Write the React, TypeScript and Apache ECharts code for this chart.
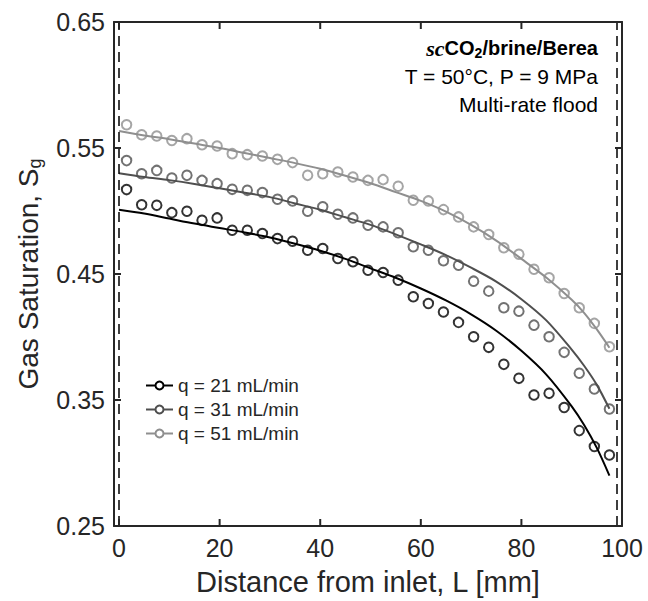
import React, { useEffect, useRef } from 'react';
import * as echarts from 'echarts';

// Measured positions along the core [mm]
const distance = [1.5, 4.5, 7.5, 10.5, 13.5, 16.5, 19.5, 22.5, 25.5, 28.5, 31.5, 34.5, 37.5, 40.5, 43.5, 46.5, 49.5, 52.5, 55.5, 58.5, 61.5, 64.5, 67.5, 70.5, 73.5, 76.5, 79.5, 82.5, 85.5, 88.5, 91.5, 94.5, 97.5];

// Measured gas saturation
const sg21 = [0.517, 0.505, 0.5045, 0.4987, 0.4998, 0.4926, 0.4945, 0.4847, 0.4847, 0.4821, 0.4781, 0.476, 0.4689, 0.4702, 0.4623, 0.4597, 0.453, 0.4512, 0.4451, 0.4319, 0.4266, 0.4198, 0.4116, 0.4002, 0.3918, 0.3783, 0.3672, 0.354, 0.3553, 0.344, 0.3257, 0.3131, 0.3064];
const sg31 = [0.54, 0.5296, 0.5322, 0.5262, 0.5283, 0.5243, 0.5217, 0.5172, 0.5164, 0.5146, 0.5093, 0.508, 0.4998, 0.5033, 0.4974, 0.4945, 0.4887, 0.4874, 0.4827, 0.4716, 0.4689, 0.4605, 0.457, 0.4443, 0.4364, 0.4232, 0.4205, 0.4094, 0.4002, 0.3878, 0.3712, 0.3587, 0.3429];
const sg51 = [0.5685, 0.5605, 0.5595, 0.556, 0.5574, 0.5526, 0.5516, 0.5455, 0.5447, 0.5437, 0.541, 0.5384, 0.5283, 0.5296, 0.531, 0.527, 0.5243, 0.5249, 0.5196, 0.5085, 0.508, 0.5011, 0.4953, 0.4874, 0.4813, 0.4708, 0.4657, 0.4538, 0.447, 0.4345, 0.4232, 0.4108, 0.3923];

// Model fit curves
const fitDistance = [0, 5, 10, 15, 20, 25, 30, 35, 40, 45, 50, 55, 60, 65, 70, 75, 80, 85, 90, 92.5, 95, 97.5];
const fit21 = [0.501, 0.498, 0.494, 0.49, 0.4865, 0.483, 0.479, 0.474, 0.4685, 0.462, 0.4545, 0.447, 0.4385, 0.429, 0.418, 0.405, 0.389, 0.37, 0.345, 0.33, 0.312, 0.29];
const fit31 = [0.53, 0.527, 0.5245, 0.5215, 0.518, 0.5145, 0.511, 0.506, 0.501, 0.495, 0.489, 0.4815, 0.4735, 0.465, 0.455, 0.444, 0.43, 0.413, 0.39, 0.377, 0.362, 0.343];
const fit51 = [0.5635, 0.56, 0.557, 0.5535, 0.55, 0.546, 0.542, 0.538, 0.5335, 0.528, 0.522, 0.515, 0.508, 0.4995, 0.489, 0.4765, 0.462, 0.447, 0.4295, 0.419, 0.406, 0.3915];

const seriesNames = ['q = 21 mL/min', 'q = 31 mL/min', 'q = 51 mL/min'];
const xTicks = [0, 20, 40, 60, 80, 100];
const yTicks = [0.25, 0.35, 0.45, 0.55, 0.65];
const coreBounds = [0, 99];

const X_MIN = -1, X_MAX = 100;
const Y_MIN = 0.25, Y_MAX = 0.65;

const colors = ['#000000', '#4f4f4f', '#8f8f8f'];
const FONT = 'Liberation Sans, Arial, Helvetica, sans-serif';
const TXT = '#262626';
const TICK_LEN = 7;

const pair = (xs: number[], ys: number[]) => xs.map((x, i) => [x, ys[i]]);

export default function App() {
  const ref = useRef<HTMLDivElement>(null);
  useEffect(() => {
    const chart = echarts.init(ref.current!, null, { renderer: 'svg' });
    const fits = [fit21, fit31, fit51];
    const meas = [sg21, sg31, sg51];
    const axisLine = { show: true, onZero: false, lineStyle: { color: TXT, width: 2 } };
    const tickStyle = { stroke: TXT, lineWidth: 2 };
    const series: any[] = [];
    fits.forEach((f, i) => {
      series.push({
        type: 'line',
        name: seriesNames[i],
        data: pair(fitDistance, f),
        smooth: 0.3,
        symbol: 'emptyCircle',
        symbolSize: 10,
        showSymbol: false,
        lineStyle: { color: colors[i], width: 2 },
        itemStyle: { color: colors[i], borderColor: colors[i], borderWidth: 2 },
        z: 2,
      });
    });
    meas.forEach((m, i) => {
      series.push({
        type: 'scatter',
        name: 'meas' + i,
        data: pair(distance, m),
        symbol: 'circle',
        symbolSize: 9.5,
        itemStyle: { color: 'rgba(0,0,0,0)', borderColor: colors[i], borderWidth: 2 },
        z: 3,
      });
    });
    series.push({
      type: 'line',
      name: 'bounds',
      data: [],
      markLine: {
        silent: true,
        symbol: ['none', 'none'],
        label: { show: false },
        lineStyle: { color: '#000', width: 1.5, type: [10, 6] },
        data: coreBounds.map((b) => ({ xAxis: b })),
      },
    });
    // inward box ticks on bottom/top
    series.push({
      type: 'custom',
      name: 'xticks',
      silent: true,
      clip: false,
      z: 5,
      data: xTicks.map((v) => [v, Y_MIN]),
      renderItem: (_p: any, api: any) => {
        const b = api.coord([api.value(0), Y_MIN]);
        const t = api.coord([api.value(0), Y_MAX]);
        return {
          type: 'group',
          children: [
            { type: 'line', shape: { x1: b[0], y1: b[1], x2: b[0], y2: b[1] - TICK_LEN }, style: tickStyle },
            { type: 'line', shape: { x1: t[0], y1: t[1], x2: t[0], y2: t[1] + TICK_LEN }, style: tickStyle },
          ],
        };
      },
    });
    // inward box ticks on left/right
    series.push({
      type: 'custom',
      name: 'yticks',
      silent: true,
      clip: false,
      z: 5,
      data: yTicks.map((v) => [X_MIN, v]),
      renderItem: (_p: any, api: any) => {
        const l = api.coord([X_MIN, api.value(1)]);
        const r = api.coord([X_MAX, api.value(1)]);
        return {
          type: 'group',
          children: [
            { type: 'line', shape: { x1: l[0], y1: l[1], x2: l[0] + TICK_LEN, y2: l[1] }, style: tickStyle },
            { type: 'line', shape: { x1: r[0], y1: r[1], x2: r[0] - TICK_LEN, y2: r[1] }, style: tickStyle },
          ],
        };
      },
    });

    chart.setOption({
      animation: false,
      backgroundColor: '#fff',
      grid: { left: 114, right: 26, top: 22, bottom: 73 },
      xAxis: [
        {
          type: 'value', min: X_MIN, max: X_MAX,
          name: 'Distance from inlet, L [mm]', nameLocation: 'middle', nameGap: 41,
          nameTextStyle: { fontFamily: FONT, fontSize: 29, color: TXT },
          axisLine,
          axisTick: { show: false },
          axisLabel: { customValues: xTicks, fontFamily: FONT, fontSize: 25, color: TXT, margin: 9 },
          splitLine: { show: false },
        },
        {
          type: 'value', min: X_MIN, max: X_MAX, position: 'top',
          axisLine,
          axisTick: { show: false },
          axisLabel: { show: false },
          splitLine: { show: false },
        },
      ],
      yAxis: [
        {
          type: 'value', min: Y_MIN, max: Y_MAX, position: 'left',
          name: 'Gas Saturation, S{sub|g}', nameLocation: 'middle', nameGap: 70,
          nameTextStyle: {
            fontFamily: FONT, fontSize: 28, color: TXT,
            rich: { sub: { fontFamily: FONT, fontSize: 18, color: TXT, padding: [13, 0, 0, 0] } },
          },
          axisLine,
          axisTick: { show: false },
          axisLabel: { customValues: yTicks, fontFamily: FONT, fontSize: 25, color: TXT, margin: 9, formatter: (v: number) => v.toFixed(2) },
          splitLine: { show: false },
        },
        {
          type: 'value', min: Y_MIN, max: Y_MAX, position: 'right',
          axisLine,
          axisTick: { show: false },
          axisLabel: { show: false },
          splitLine: { show: false },
        },
      ],
      legend: {
        data: seriesNames,
        orient: 'vertical',
        left: 140,
        top: 371,
        itemWidth: 27,
        itemHeight: 10,
        itemGap: 5,
        textStyle: { fontFamily: FONT, fontSize: 19, color: TXT },
      },
      graphic: [
        {
          type: 'text', x: 598, y: 48,
          style: {
            text: '{i|sc}{b|CO}{s|2}{b|/brine/Berea}',
            align: 'right', verticalAlign: 'middle',
            rich: {
              i: { fontFamily: 'Liberation Serif, Times New Roman, serif', fontStyle: 'italic', fontWeight: 'bold', fontSize: 22, fill: '#000' },
              b: { fontFamily: FONT, fontWeight: 'bold', fontSize: 20, fill: '#000' },
              s: { fontFamily: FONT, fontWeight: 'bold', fontSize: 14, fill: '#000', padding: [10, 0, 0, 0] },
            },
          },
        },
        {
          type: 'text', x: 598, y: 76,
          style: { text: 'T = 50°C, P = 9 MPa', align: 'right', verticalAlign: 'middle', fontFamily: FONT, fontSize: 21, fill: '#000' },
        },
        {
          type: 'text', x: 598, y: 104,
          style: { text: 'Multi-rate flood', align: 'right', verticalAlign: 'middle', fontFamily: FONT, fontSize: 21, fill: '#000' },
        },
      ],
      series,
    });
    return () => chart.dispose();
  }, []);
  return <div ref={ref} style={{ position: 'fixed', left: 0, top: 0, width: 648, height: 601 }} />;
}
